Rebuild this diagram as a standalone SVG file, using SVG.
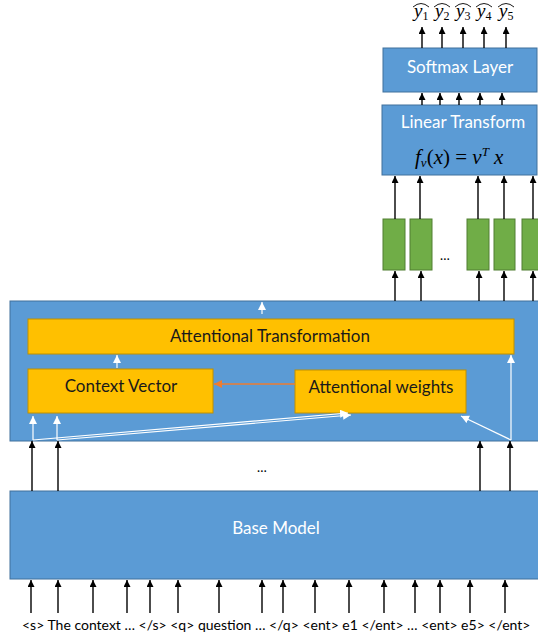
<svg xmlns="http://www.w3.org/2000/svg" width="538" height="641" viewBox="0 0 538 641">
<style>
.blue{fill:#5B9BD5;stroke:#41719C;stroke-width:1}
.orange{fill:#FFC000;stroke:#BF9000;stroke-width:1}
.green{fill:#70AD47;stroke:#507E32;stroke-width:1}
.wt{font-family:Lato,"Liberation Sans",sans-serif;font-size:17px;fill:#FFFFFF;text-anchor:middle}
.bt{font-family:Lato,"Liberation Sans",sans-serif;font-size:17px;fill:#1a1a1a;text-anchor:middle}
.blk{stroke:#000;stroke-width:1.4;fill:none;marker-end:url(#ah)}
.wht{stroke:#FFF;stroke-width:1.2;fill:none;marker-end:url(#ahw)}
.org{stroke:#ED7D31;stroke-width:1.6;fill:none;marker-end:url(#aho)}
.math{font-family:"Liberation Serif","DejaVu Serif",serif;fill:#000}
</style>
<defs>
<marker id="ah" markerUnits="userSpaceOnUse" markerWidth="8" markerHeight="8" refX="7" refY="3.5" orient="auto"><path d="M0,0 L7,3.5 L0,7 z" fill="#000"/></marker>
<marker id="ahw" markerUnits="userSpaceOnUse" markerWidth="10" markerHeight="10" refX="8" refY="4" orient="auto"><path d="M0,0 L8,4 L0,8 z" fill="#FFF"/></marker>
<marker id="aho" markerUnits="userSpaceOnUse" markerWidth="10" markerHeight="10" refX="8" refY="4" orient="auto"><path d="M0,0 L8,4 L0,8 z" fill="#ED7D31"/></marker>
</defs>

<g id="outputs">
<g class="math" font-size="19">
<text x="414" y="17" font-style="italic">y<tspan font-style="normal" font-size="12" dy="3">1</tspan></text>
<text x="435" y="17" font-style="italic">y<tspan font-style="normal" font-size="12" dy="3">2</tspan></text>
<text x="456" y="17" font-style="italic">y<tspan font-style="normal" font-size="12" dy="3">3</tspan></text>
<text x="477" y="17" font-style="italic">y<tspan font-style="normal" font-size="12" dy="3">4</tspan></text>
<text x="499" y="17" font-style="italic">y<tspan font-style="normal" font-size="12" dy="3">5</tspan></text>
</g>
<g fill="none" stroke="#000" stroke-width="0.9">
<path d="M413,7 Q421,0 429,7"/>
<path d="M434,7 Q442,0 450,7"/>
<path d="M455,7 Q463,0 471,7"/>
<path d="M476,7 Q484,0 492,7"/>
<path d="M498,7 Q506,0 514,7"/>
</g>
</g>

<g id="softmax">
<rect class="blue" x="383" y="48" width="154" height="44"/>
<text class="wt" x="460" y="73">Softmax Layer</text>
</g>

<g id="linear-transform">
<rect class="blue" x="382" y="105" width="155" height="70"/>
<text class="wt" x="463" y="128">Linear Transform</text>
<text class="math" x="415" y="164" font-size="21"><tspan font-style="italic">f</tspan><tspan font-style="italic" font-size="13" dy="3">v</tspan><tspan dy="-3">(</tspan><tspan font-style="italic">x</tspan>) = <tspan font-style="italic">v</tspan><tspan font-style="italic" font-size="13" dy="-8">T</tspan><tspan font-style="italic" dy="8"> x</tspan></text>
</g>

<g id="hidden-vectors">
<rect class="green" x="383" y="219" width="22" height="51"/>
<rect class="green" x="410" y="219" width="22" height="51"/>
<rect class="green" x="467" y="219" width="22" height="51"/>
<rect class="green" x="494" y="219" width="21" height="51"/>
<rect class="green" x="522" y="219" width="22" height="51"/>
<text x="445" y="260" font-family="Lato,'Liberation Sans',sans-serif" font-size="13" fill="#000" text-anchor="middle">…</text>
</g>

<g id="attention-block">
<rect class="blue" x="10" y="301" width="536" height="140"/>
</g>
<g id="attentional-transformation">
<rect class="orange" x="28" y="319" width="486" height="35"/>
<text class="bt" x="270" y="342">Attentional Transformation</text>
</g>
<g id="context-vector">
<rect class="orange" x="28" y="369" width="185" height="44"/>
<text class="bt" x="121" y="392">Context Vector</text>
</g>
<g id="attentional-weights">
<rect class="orange" x="295" y="370" width="171" height="43"/>
<text class="bt" x="381" y="393">Attentional weights</text>
</g>

<g id="dots-mid">
<text x="262" y="472" font-family="Lato,'Liberation Sans',sans-serif" font-size="13" fill="#000" text-anchor="middle">…</text>
</g>

<g id="base-model">
<rect class="blue" x="10" y="491" width="536" height="88"/>
<text class="wt" x="276" y="534">Base Model</text>
</g>

<g id="input-text">
<text x="22" y="630" font-family="Lato,'Liberation Sans',sans-serif" font-size="14" fill="#000">&lt;s&gt; The context … &lt;/s&gt; &lt;q&gt; question … &lt;/q&gt; &lt;ent&gt; e1 &lt;/ent&gt; … &lt;ent&gt; e5&gt; &lt;/ent&gt;</text>
</g>

<g id="connectors">
<line class="blk" x1="422" y1="48" x2="422" y2="27"/>
<line class="blk" x1="442" y1="48" x2="442" y2="27"/>
<line class="blk" x1="463" y1="48" x2="463" y2="27"/>
<line class="blk" x1="484" y1="48" x2="484" y2="27"/>
<line class="blk" x1="506" y1="48" x2="506" y2="27"/>
<line class="blk" x1="422" y1="105" x2="422" y2="93"/>
<line class="blk" x1="440" y1="105" x2="440" y2="93"/>
<line class="blk" x1="459" y1="105" x2="459" y2="93"/>
<line class="blk" x1="480" y1="105" x2="480" y2="93"/>
<line class="blk" x1="502" y1="105" x2="502" y2="93"/>
<line class="blk" x1="395" y1="219" x2="395" y2="176"/>
<line class="blk" x1="420" y1="219" x2="420" y2="176"/>
<line class="blk" x1="478" y1="219" x2="478" y2="176"/>
<line class="blk" x1="504" y1="219" x2="504" y2="176"/>
<line class="blk" x1="533" y1="219" x2="533" y2="176"/>
<line class="blk" x1="395" y1="301" x2="395" y2="271"/>
<line class="blk" x1="421" y1="301" x2="421" y2="271"/>
<line class="blk" x1="479" y1="301" x2="479" y2="271"/>
<line class="blk" x1="504" y1="301" x2="504" y2="271"/>
<line class="blk" x1="533" y1="301" x2="533" y2="271"/>
<line class="wht" x1="262" y1="314" x2="262" y2="302"/>
<line class="wht" x1="117" y1="368" x2="117" y2="355"/>
<line class="org" x1="295" y1="384" x2="214" y2="384"/>
<line class="wht" x1="33" y1="440" x2="33" y2="416"/>
<line class="wht" x1="57" y1="440" x2="57" y2="416"/>
<line class="wht" x1="33" y1="440" x2="348" y2="413"/>
<line class="wht" x1="57" y1="440" x2="351" y2="415"/>
<line class="wht" x1="511" y1="440" x2="511" y2="355"/>
<line class="wht" x1="511" y1="440" x2="461" y2="416"/>
<line class="blk" x1="32" y1="491" x2="32" y2="441"/>
<line class="blk" x1="58" y1="491" x2="58" y2="441"/>
<line class="blk" x1="480" y1="491" x2="480" y2="441"/>
<line class="blk" x1="510" y1="491" x2="510" y2="441"/>
<line class="blk" x1="31" y1="613" x2="31" y2="580"/>
<line class="blk" x1="58" y1="613" x2="58" y2="580"/>
<line class="blk" x1="93" y1="613" x2="93" y2="580"/>
<line class="blk" x1="127" y1="613" x2="127" y2="580"/>
<line class="blk" x1="150" y1="613" x2="150" y2="580"/>
<line class="blk" x1="178" y1="613" x2="178" y2="580"/>
<line class="blk" x1="219" y1="613" x2="219" y2="580"/>
<line class="blk" x1="262" y1="613" x2="262" y2="580"/>
<line class="blk" x1="283" y1="613" x2="283" y2="580"/>
<line class="blk" x1="315" y1="613" x2="315" y2="580"/>
<line class="blk" x1="349" y1="613" x2="349" y2="580"/>
<line class="blk" x1="384" y1="613" x2="384" y2="580"/>
<line class="blk" x1="415" y1="613" x2="415" y2="580"/>
<line class="blk" x1="440" y1="613" x2="440" y2="580"/>
<line class="blk" x1="470" y1="613" x2="470" y2="580"/>
<line class="blk" x1="505" y1="613" x2="505" y2="580"/>
</g>
</svg>
